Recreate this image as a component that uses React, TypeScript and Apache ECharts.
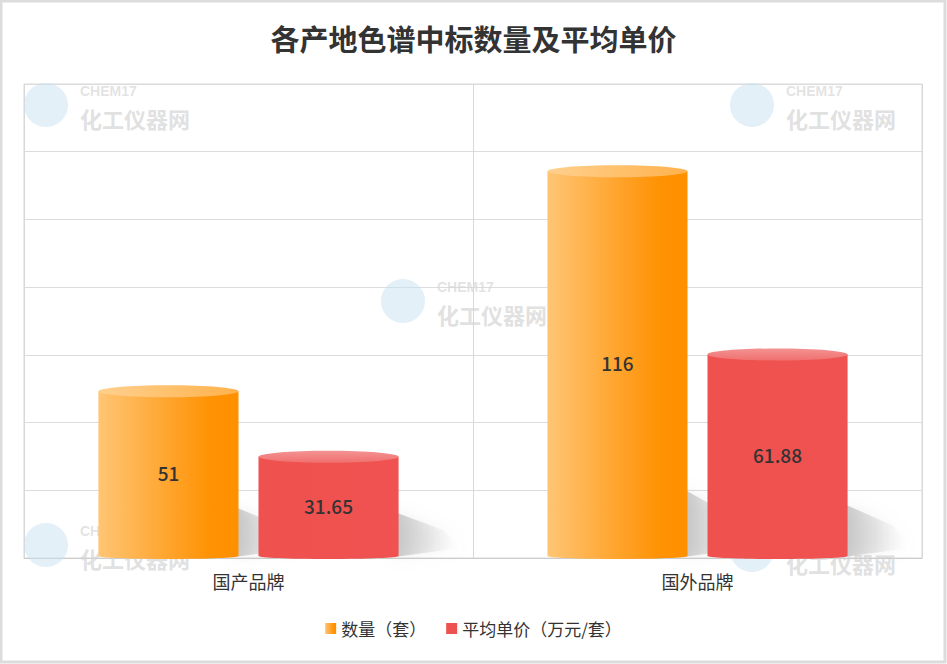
import React, { useEffect, useRef } from "react";
import * as echarts from "echarts";

const categories = ["国产品牌", "国外品牌"];
const seriesNames = ["数量（套）", "平均单价（万元/套）"];
const quantityValues = [51, 116];
const priceValues = [31.65, 61.88];
const axisMax = 140;
const axisInterval = 20;

const FONT = "'Noto Sans CJK SC', 'Noto Sans', sans-serif";

const orangeBody = () =>
  new echarts.graphic.LinearGradient(0, 0, 1, 0, [
    { offset: 0, color: "#FFC574" },
    { offset: 0.55, color: "#FFA126" },
    { offset: 0.8, color: "#FF9203" },
    { offset: 1, color: "#FF9000" },
  ]);
const orangeTop = () =>
  new echarts.graphic.LinearGradient(0, 0, 1, 0, [
    { offset: 0, color: "#FFD08E" },
    { offset: 1, color: "#FFB24C" },
  ]);
const redBody = () =>
  new echarts.graphic.LinearGradient(0, 0, 1, 0, [
    { offset: 0, color: "#EE514E" },
    { offset: 1, color: "#EF5250" },
  ]);
const redTop = () =>
  new echarts.graphic.LinearGradient(0, 0, 0, 1, [
    { offset: 0, color: "#F39392" },
    { offset: 1, color: "#F0706E" },
  ]);

function makeRender(side: number, bodyFn: () => any, topFn: () => any) {
  return (params: any, api: any) => {
    const catIdx = api.value(0);
    const val = api.value(1);
    const top = api.coord([catIdx, val]);
    const base = api.coord([catIdx, 0]);
    const bandW = api.size([1, 0])[0];
    const barW = bandW * 0.312;
    const gap = bandW * 0.0445;
    const cx = top[0] + side * (barW / 2 + gap / 2);
    const x0 = cx - barW / 2;
    const x1 = cx + barW / 2;
    const ry = 6;
    const yTop = top[1] + ry;
    const yb = base[1];
    const h = yb - yTop;
    const sh = Math.min(38 + h * 0.08, 75);
    return {
      type: "group",
      children: [
        {
          type: "polygon",
          shape: {
            points: [
              [x1 - 4, yb - sh],
              [x1 + 45, yb - sh * 0.6],
              [x1 + 62, yb - 10],
              [x1 - 4, yb - 1],
            ],
          },
          style: {
            fill: new echarts.graphic.LinearGradient(0, 0, 1, 0, [
              { offset: 0, color: "rgba(140,140,140,0.45)" },
              { offset: 0.5, color: "rgba(180,180,180,0.28)" },
              { offset: 1, color: "rgba(230,230,230,0)" },
            ]),
            shadowBlur: 14,
            shadowColor: "rgba(170,170,170,0.5)",
          },
        },
        {
          type: "ellipse",
          shape: { cx: cx, cy: yb - 2, rx: barW / 2, ry: 3 },
          style: { fill: bodyFn() },
        },
        {
          type: "rect",
          shape: { x: x0, y: yTop, width: barW, height: yb - 2 - yTop },
          style: { fill: bodyFn() },
        },
        {
          type: "ellipse",
          shape: { cx: cx, cy: yTop, rx: barW / 2, ry: ry },
          style: { fill: topFn() },
        },
        {
          type: "text",
          style: {
            text: String(val),
            x: cx,
            y: yTop + h / 2 - 2,
            align: "center",
            verticalAlign: "middle",
            fontSize: 19,
            fontWeight: 500,
            fontFamily: FONT,
            fill: "#333333",
          },
        },
      ],
    };
  };
}

function watermark(x: number, y: number): any[] {
  return [
    {
      type: "circle",
      shape: { cx: x - 34, cy: y + 21, r: 22 },
      style: { fill: "rgba(200,225,242,0.5)" },
      silent: true,
      z: 1,
    },
    {
      type: "text",
      x: x,
      y: y,
      style: {
        text: "CHEM17",
        fontSize: 14,
        lineHeight: 14,
        verticalAlign: "top",
        fontWeight: "bold",
        fontFamily: "'Liberation Sans', sans-serif",
        fill: "rgba(215,215,215,0.7)",
      },
      silent: true,
      z: 1,
    },
    {
      type: "text",
      x: x,
      y: y + 23,
      style: {
        text: "化工仪器网",
        fontSize: 22,
        lineHeight: 22,
        verticalAlign: "top",
        fontWeight: "bold",
        fontFamily: FONT,
        fill: "rgba(212,212,212,0.7)",
      },
      silent: true,
      z: 1,
    },
  ];
}

export default function App() {
  const ref = useRef<HTMLDivElement>(null);
  useEffect(() => {
    if (!ref.current) return;
    const chart = echarts.init(ref.current, null, { renderer: "svg" });
    const qData = quantityValues.map((v, i) => [i, v]);
    const pData = priceValues.map((v, i) => [i, v]);
    chart.setOption({
      animation: false,
      backgroundColor: "#ffffff",
      title: {
        text: "各产地色谱中标数量及平均单价",
        left: "center",
        top: 18,
        textStyle: {
          fontSize: 29,
          fontWeight: "bold",
          color: "#333333",
          fontFamily: FONT,
        },
      },
      legend: {
        bottom: 22,
        left: "center",
        itemWidth: 11,
        itemHeight: 11,
        itemGap: 20,
        icon: "rect",
        textStyle: { fontSize: 17, color: "#333333", fontFamily: FONT },
        data: seriesNames,
      },
      grid: {
        left: 24,
        right: 25,
        top: 84,
        bottom: 106,
        show: true,
        borderColor: "#d8d8d8",
        borderWidth: 1,
      },
      xAxis: {
        type: "category",
        data: categories,
        axisTick: { show: false },
        axisLine: { lineStyle: { color: "#cccccc" } },
        splitLine: { show: true, lineStyle: { color: "#d8d8d8" } },
        axisLabel: {
          fontSize: 18,
          color: "#333333",
          margin: 14,
          fontFamily: FONT,
        },
      },
      yAxis: {
        type: "value",
        min: 0,
        max: axisMax,
        interval: axisInterval,
        axisLabel: { show: false },
        axisLine: { show: false },
        axisTick: { show: false },
        splitLine: { lineStyle: { color: "#dcdcdc" } },
      },
      graphic: [
        {
          type: "rect",
          shape: { x: 1, y: 1, width: 944, height: 661 },
          style: { fill: "none", stroke: "#dcdcdc", lineWidth: 3 },
          silent: true,
          z: 0,
        },
        ...watermark(80, 84),
        ...watermark(786, 84),
        ...watermark(437, 280),
        ...watermark(80, 524),
        ...watermark(786, 529),
      ],
      series: [
        {
          name: seriesNames[0],
          type: "custom",
          data: qData,
          encode: { x: 0, y: 1 },
          itemStyle: { color: orangeBody() },
          renderItem: makeRender(-1, orangeBody, orangeTop),
          z: 3,
        },
        {
          name: seriesNames[1],
          type: "custom",
          data: pData,
          encode: { x: 0, y: 1 },
          itemStyle: { color: "#EE5250" },
          renderItem: makeRender(1, redBody, redTop),
          z: 3,
        },
      ],
    });
    return () => chart.dispose();
  }, []);
  return (
    <div
      ref={ref}
      style={{ position: "absolute", left: 0, top: 0, width: 947, height: 664 }}
    />
  );
}
